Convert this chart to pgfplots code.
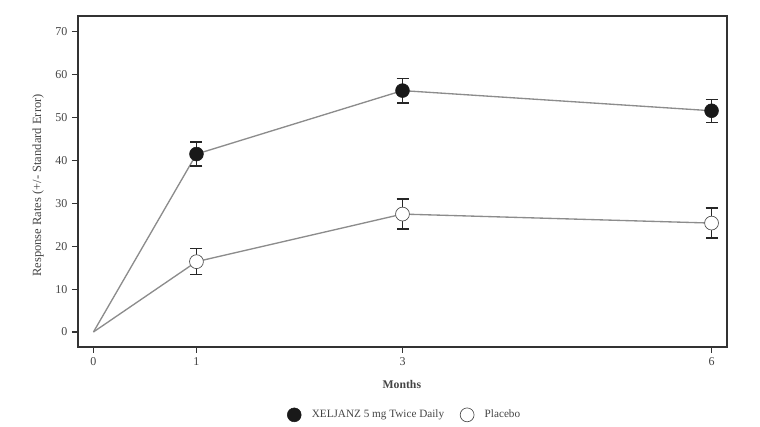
\documentclass[border=0pt]{standalone}
\usepackage{fontspec}
\setmainfont{Liberation Serif}
\usepackage{pgfplots}
\pgfplotsset{compat=1.18}
\definecolor{axgray}{HTML}{333333}
\definecolor{lngray}{HTML}{8C8C8C}
\definecolor{txtgray}{HTML}{444444}
\begin{document}
\begin{tikzpicture}
\useasboundingbox (-58.5pt,-60pt) rectangle (511.5pt,260.25pt);
\begin{axis}[
 at={(0,0)}, anchor=south west, scale only axis,
 width=486.75pt, height=248.25pt,
 xmin=-0.15, xmax=6.15, ymin=-3.5, ymax=73.7,
 xtick={0,1,3,6}, ytick={0,10,20,30,40,50,60,70},
 xtick pos=bottom, ytick pos=left, tick align=outside,
 major tick length=4.5pt,
 axis line style={axgray, line width=0.9pt},
 tick style={axgray, line width=0.9pt},
 ticklabel style={font=\fontsize{9}{10}\selectfont, text=txtgray},
 /pgf/number format/assume math mode=true,
 xlabel={Months},
 xlabel style={at={(axis description cs:0.499,-0.112)}, anchor=center, font=\fontsize{8.8}{10}\selectfont\bfseries, text=txtgray},
 ylabel={Response Rates (+/- Standard Error)},
 ylabel style={at={(axis description cs:-0.0616,0.488)}, anchor=center, font=\fontsize{9.4}{11}\selectfont, text=txtgray},
 legend style={draw=none, fill=none, at={(axis description cs:0.504,-0.205)}, anchor=center, font=\fontsize{8.4}{9}\selectfont, text=txtgray, /tikz/every even column/.append style={column sep=10pt}},
 legend columns=2,
]
\addlegendimage{only marks, mark=*, mark size=5.2pt, mark options={fill=black!90, draw=black!90}}
\addlegendentry{\hspace{6pt}XELJANZ 5 mg Twice Daily}
\addlegendimage{only marks, mark=*, mark size=5.2pt, mark options={fill=white, draw=black!70, line width=0.5pt}}
\addlegendentry{\hspace{6pt}Placebo}
% lines
\addplot[forget plot, lngray, line width=1pt, mark=none] coordinates {(0,0) (1,41.5) (3,56.3) (6,51.6)};
\addplot[forget plot, lngray, line width=1pt, mark=none] coordinates {(0,0) (1,16.4) (3,27.5) (6,25.4)};
% error bars
\addplot[forget plot, draw=none, mark=none, error bars/.cd, y dir=both, y explicit,
  error bar style={black!85, line width=0.9pt}, error mark options={rotate=90, mark size=4.5pt, black!85, line width=0.9pt}]
  coordinates {(1,41.5) +- (0,2.8) (3,56.3) +- (0,2.9) (6,51.6) +- (0,2.7)};
\addplot[forget plot, draw=none, mark=none, error bars/.cd, y dir=both, y explicit,
  error bar style={black!85, line width=0.9pt}, error mark options={rotate=90, mark size=4.5pt, black!85, line width=0.9pt}]
  coordinates {(1,16.4) +- (0,3.0) (3,27.5) +- (0,3.5) (6,25.4) +- (0,3.5)};
% markers
\addplot[forget plot, only marks, mark=*, mark size=5.2pt, mark options={fill=black!90, draw=black!90}]
  coordinates {(1,41.5) (3,56.3) (6,51.6)};
\addplot[forget plot, only marks, mark=*, mark size=5.2pt, mark options={fill=white, draw=black!70, line width=0.5pt}]
  coordinates {(1,16.4) (3,27.5) (6,25.4)};
\end{axis}
\end{tikzpicture}
\end{document}
